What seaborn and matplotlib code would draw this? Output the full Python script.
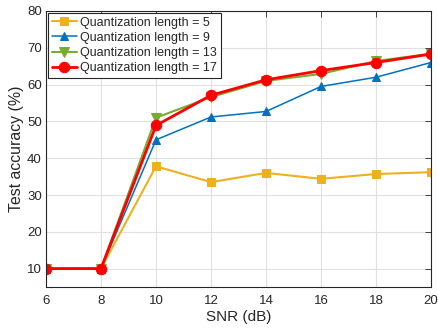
import matplotlib
matplotlib.use("Agg")
import matplotlib.pyplot as plt
import seaborn as sns
import pandas as pd

snr = [6, 8, 10, 12, 14, 16, 18, 20]
acc_q5 = [10, 10, 37.8, 33.5, 36.0, 34.4, 35.7, 36.2]
acc_q9 = [10, 10, 45.0, 51.2, 52.7, 59.5, 62.0, 66.0]
acc_q13 = [10, 10, 51.0, 56.6, 61.0, 62.9, 66.4, 68.4]
acc_q17 = [10, 10, 48.9, 57.1, 61.3, 63.8, 66.0, 68.3]
labels = ["Quantization length = 5", "Quantization length = 9",
          "Quantization length = 13", "Quantization length = 17"]

sns.set_theme(style="whitegrid")
plt.rcParams['font.family'] = ['Liberation Sans', 'DejaVu Sans']

fig = plt.figure(figsize=(4.38, 3.28), dpi=100)
ax = fig.add_axes([46/438, 1-287/328, (431-46)/438, (287-11)/328])

styles = [
    dict(color="#EDB120", marker="s", lw=1.5, ms=5.5),
    dict(color="#0072BD", marker="^", lw=1.1, ms=6),
    dict(color="#77AC30", marker="v", lw=1.5, ms=7),
    dict(color="#FF0000", marker="o", lw=2.0, ms=7.5),
]
for vals, lab, st in zip([acc_q5, acc_q9, acc_q13, acc_q17], labels, styles):
    df = pd.DataFrame({"SNR": snr, "acc": vals})
    sns.lineplot(data=df, x="SNR", y="acc", ax=ax, color=st["color"], marker=st["marker"],
                 linewidth=st["lw"], markersize=st["ms"], markeredgecolor=st["color"],
                 label=lab)

ax.set_xlim(6, 20)
ax.set_ylim(5, 80)
ax.set_xticks(snr)
ax.set_yticks([10, 20, 30, 40, 50, 60, 70, 80])
ax.set_xlabel("SNR (dB)", fontsize=11, color="#262626", labelpad=2)
ax.set_ylabel("Test accuracy (%)", fontsize=11.4, color="#262626", labelpad=2)
ax.tick_params(axis="both", labelsize=9.5, colors="#262626", direction="in",
               length=4, width=0.6, top=True, right=True)
ax.tick_params(axis="y", pad=3)
ax.tick_params(axis="x", pad=6)
ax.grid(True, color="#E0E0E0", linewidth=0.8)
for s in ax.spines.values():
    s.set_color("#262626")
    s.set_linewidth(0.8)
ax.set_facecolor("white")

leg = ax.legend(loc="upper left", fontsize=9, frameon=True, fancybox=False,
                borderaxespad=0.15, handlelength=2.0, handletextpad=0.3,
                labelspacing=0.25, borderpad=0.3)
leg.get_frame().set_edgecolor("#262626")
leg.get_frame().set_linewidth(0.8)
leg.get_frame().set_alpha(1)

fig.savefig("out.png", dpi=100)
